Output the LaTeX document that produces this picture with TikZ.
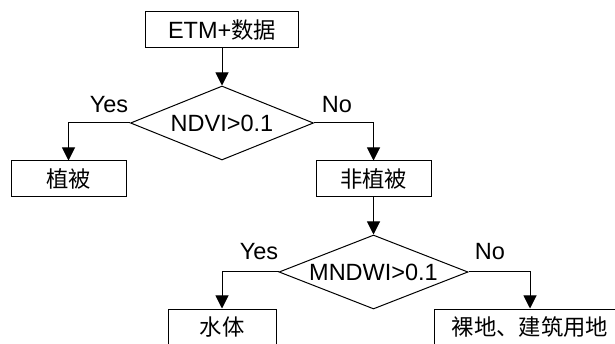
\documentclass[tikz,border=0pt]{standalone}
\usepackage{fontspec}
\setmainfont{Liberation Sans}
\newfontfamily\cjk[Scale=0.95]{Noto Sans CJK SC}
\usetikzlibrary{shapes.geometric,arrows.meta}
\begin{document}
\begin{tikzpicture}[x=1pt,y=-1pt,line width=1pt,
    font=\fontsize{23.5}{28}\selectfont,
    box/.style={draw,rectangle,inner sep=0pt,minimum height=36pt},
    test/.style={draw,diamond,aspect=2.5,inner sep=0pt,minimum height=74pt},
    arrow/.style={-{Triangle[width=13pt,length=13pt]}}]
  \useasboundingbox (0,0) rectangle (615,344);
  \clip (0,0) rectangle (615,344);
  \path
    (222,30) node[box,minimum width=153pt] (data){ETM+{\cjk 数据}}
    (222,123) node[test,minimum width=183pt] (ndvi){NDVI>0.1}
    (68.5,179) node[box,minimum width=115pt] (veg){\cjk 植被}
    (373.5,179) node[box,minimum width=115pt] (nonveg){\cjk 非植被}
    (373.5,272) node[test,minimum width=189pt] (mndwi){MNDWI>0.1}
    (222,327) node[box,minimum width=108pt] (water){\cjk 水体}
    (530,327) node[box,minimum width=192pt] (bare){\cjk 裸地、建筑用地}
    (109,105) node (yes1){Yes}
    (337,105) node (no1){No}
    (259,252) node (yes2){Yes}
    (490,252) node (no2){No};
  \begin{scope}[arrow]
    \draw (data) to (ndvi);
    \draw (ndvi.west) -| (veg.north);
    \draw (ndvi.east) -| (nonveg.north);
    \draw (nonveg) to (mndwi);
    \draw (mndwi.west) -| (water.north);
    \draw (mndwi.east) -| (bare.north);
  \end{scope}
\end{tikzpicture}
\end{document}
